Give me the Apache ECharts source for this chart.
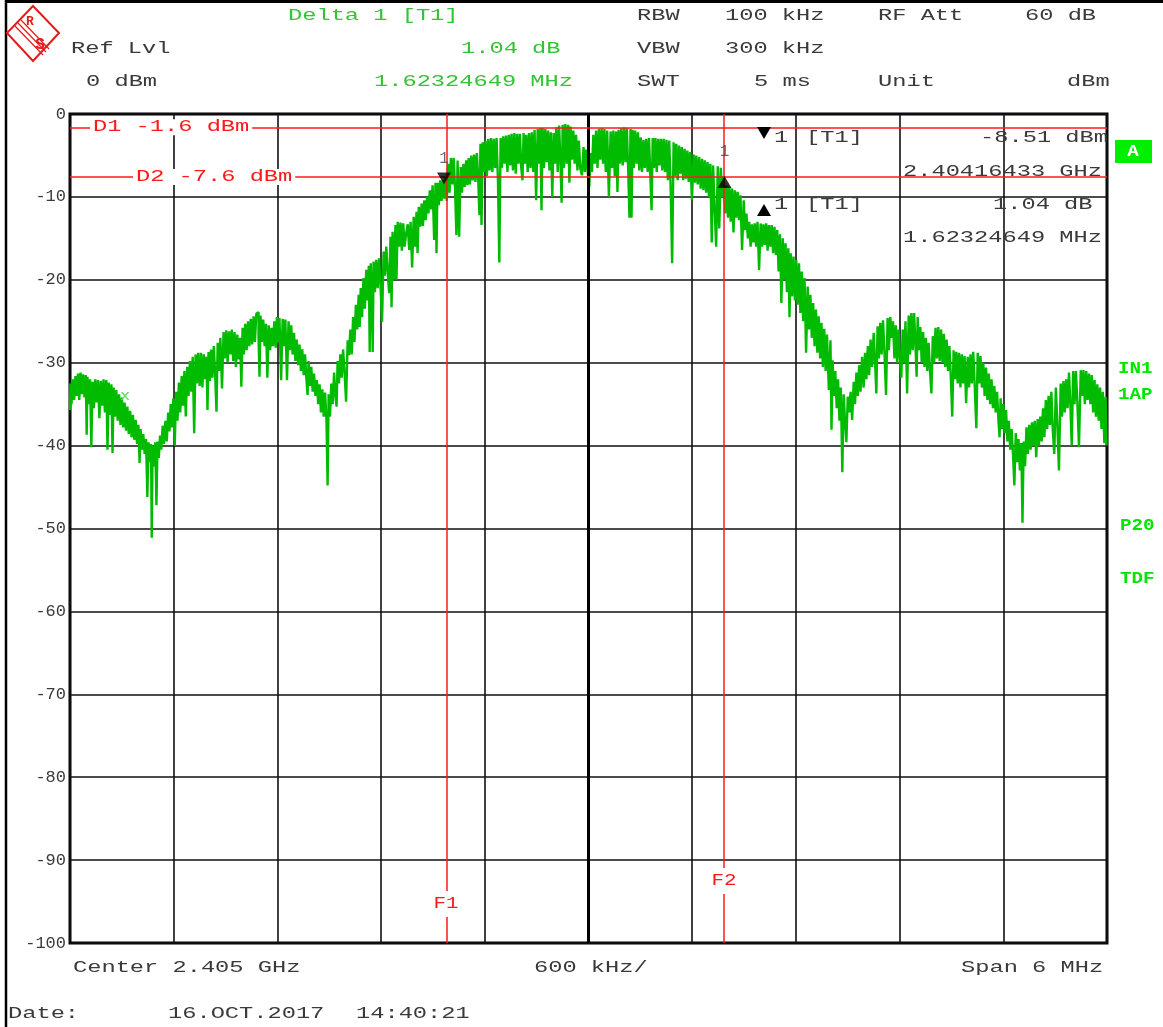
<!DOCTYPE html>
<html><head><meta charset="utf-8">
<script src="https://cdn.jsdelivr.net/npm/echarts@6/dist/echarts.min.js"></script>
<style>html,body{margin:0;padding:0;background:#fff}#c{width:1163px;height:1027px}</style>
</head><body><div id="c"></div>
<script>
// ---- data (frequency offset from centre in MHz, level in dBm) ----
const xRange = [-3, 3];           // span 6 MHz, 600 kHz/div
const yRange = [-100, 0];         // ref level 0 dBm, 10 dB/div
const trace = [
[-3.000,-35.7],[-2.995,-32.5],[-2.988,-35.0],[-2.980,-32.0],[-2.972,-34.5],[-2.965,-31.6],[-2.958,-34.0],[-2.950,-31.3],[-2.943,-34.5],[-2.935,-31.2],[-2.928,-33.8],[-2.920,-31.4],[-2.912,-34.2],[-2.905,-31.5],[-2.902,-38.7],[-2.896,-31.7],[-2.888,-35.0],[-2.880,-32.0],[-2.873,-40.2],[-2.866,-32.3],[-2.858,-35.5],[-2.850,-32.0],[-2.842,-34.8],[-2.834,-32.1],[-2.826,-36.7],[-2.818,-32.2],[-2.810,-35.2],[-2.802,-32.0],[-2.794,-36.0],[-2.786,-32.1],[-2.780,-40.5],[-2.772,-32.4],[-2.764,-36.3],[-2.757,-32.6],[-2.751,-40.9],[-2.744,-33.0],[-2.736,-36.5],[-2.728,-33.3],[-2.720,-37.0],[-2.712,-33.8],[-2.704,-37.5],[-2.696,-34.2],[-2.688,-37.8],[-2.680,-34.8],[-2.672,-38.2],[-2.664,-35.3],[-2.656,-38.6],[-2.648,-35.8],[-2.640,-39.0],[-2.632,-36.3],[-2.624,-39.3],[-2.616,-36.9],[-2.608,-39.8],[-2.600,-37.5],[-2.595,-42.1],[-2.588,-38.0],[-2.580,-40.5],[-2.572,-38.6],[-2.564,-41.0],[-2.556,-39.2],[-2.549,-46.2],[-2.542,-39.6],[-2.534,-42.0],[-2.528,-39.8],[-2.526,-51.1],[-2.518,-40.0],[-2.510,-42.5],[-2.503,-39.6],[-2.497,-47.2],[-2.490,-39.5],[-2.482,-41.5],[-2.476,-38.8],[-2.468,-40.5],[-2.460,-37.6],[-2.452,-39.8],[-2.444,-37.0],[-2.436,-39.5],[-2.428,-36.0],[-2.421,-38.3],[-2.414,-35.0],[-2.406,-37.8],[-2.398,-34.3],[-2.390,-40.0],
[-2.382,-33.5],[-2.374,-37.0],[-2.366,-32.4],[-2.358,-36.0],[-2.350,-31.6],[-2.342,-35.2],[-2.334,-31.0],[-2.326,-36.5],[-2.318,-30.5],[-2.310,-34.0],[-2.302,-29.8],[-2.294,-33.5],[-2.286,-29.3],[-2.277,-38.5],[-2.270,-29.0],[-2.262,-32.5],[-2.254,-28.8],[-2.246,-32.8],[-2.238,-28.8],[-2.230,-33.0],[-2.222,-29.0],[-2.214,-32.0],[-2.207,-29.3],[-2.202,-35.7],[-2.195,-28.7],[-2.187,-32.2],[-2.180,-28.4],[-2.172,-31.8],[-2.164,-28.0],[-2.156,-31.5],[-2.149,-35.9],[-2.142,-27.6],[-2.134,-31.0],[-2.126,-27.0],[-2.115,-33.1],[-2.108,-26.3],[-2.100,-29.5],[-2.092,-26.1],[-2.084,-30.0],[-2.076,-26.2],[-2.068,-29.0],[-2.060,-26.0],[-2.052,-29.8],[-2.044,-26.3],[-2.036,-30.5],[-2.028,-26.6],[-2.020,-29.6],[-2.012,-27.0],[-2.005,-32.9],[-1.998,-25.8],[-1.990,-29.0],[-1.982,-25.3],[-1.974,-28.5],[-1.966,-25.0],[-1.958,-28.0],[-1.950,-24.7],[-1.942,-27.8],[-1.934,-24.4],[-1.926,-27.5],[-1.918,-24.1],[-1.912,-23.9],[-1.906,-27.0],[-1.901,-31.7],[-1.894,-24.3],[-1.886,-27.5],[-1.878,-24.8],[-1.870,-28.0],[-1.862,-25.3],[-1.854,-31.8],[-1.846,-25.5],[-1.838,-28.5],[-1.830,-25.8],[-1.822,-28.0],[-1.814,-25.0],[-1.806,-28.2],[-1.800,-24.5],[-1.792,-27.6],[-1.784,-24.6],[-1.773,-32.1],[-1.766,-24.7],[-1.758,-28.0],[-1.750,-24.8],[-1.739,-32.1],[-1.732,-25.0],[-1.724,-28.5],[-1.716,-25.5],[-1.708,-29.0],[-1.700,-26.4],[-1.692,-29.8],[-1.684,-27.2],[-1.676,-30.3],[-1.668,-27.8],[-1.660,-31.0],[-1.652,-28.4],[-1.644,-31.5],[-1.636,-29.0],[-1.628,-32.0],[-1.623,-33.9],[-1.616,-29.8],[-1.608,-32.8],[-1.600,-30.5],[-1.592,-33.5],[-1.584,-31.3],[-1.576,-34.0],[-1.568,-32.1],[-1.560,-35.0],[-1.552,-32.6],[-1.544,-36.0],[-1.536,-33.2],[-1.528,-36.5],[-1.520,-33.6],[-1.512,-37.0],[-1.507,-44.8],[-1.500,-33.8],[-1.492,-36.5],[-1.484,-32.5],[-1.476,-35.0],[-1.468,-31.2],[-1.460,-34.0],[-1.455,-35.3],[-1.448,-29.8],[-1.440,-32.5],[-1.432,-29.0],[-1.424,-31.8],[-1.416,-28.4],[-1.408,-31.0],[-1.397,-34.7],[-1.390,-27.3],[-1.382,-29.1],
[-1.374,-26.0],[-1.366,-29.0],[-1.358,-24.5],[-1.350,-27.5],[-1.342,-23.0],[-1.334,-26.0],[-1.326,-21.8],[-1.322,-25.7],[-1.314,-21.0],[-1.306,-24.5],[-1.298,-19.8],[-1.290,-23.5],[-1.282,-18.8],[-1.274,-22.5],[-1.268,-18.3],[-1.264,-28.7],[-1.256,-18.0],[-1.250,-22.0],[-1.247,-28.7],[-1.240,-17.8],[-1.232,-21.5],[-1.224,-17.6],[-1.216,-21.0],[-1.208,-17.4],[-1.200,-20.5],[-1.189,-25.1],[-1.182,-16.6],[-1.174,-19.5],[-1.166,-16.0],[-1.158,-19.0],[-1.149,-21.6],[-1.142,-14.8],[-1.137,-23.3],[-1.130,-14.2],[-1.120,-20.0],[-1.114,-13.4],[-1.108,-20.0],[-1.100,-13.0],[-1.092,-16.0],[-1.084,-13.1],[-1.076,-16.5],[-1.068,-13.2],[-1.060,-16.0],[-1.050,-14.4],[-1.042,-13.3],[-1.033,-16.4],[-1.026,-13.0],[-1.015,-18.5],[-1.008,-12.4],[-0.998,-16.0],[-0.992,-11.8],[-0.986,-16.8],[-0.978,-11.2],[-0.969,-13.6],[-0.962,-10.8],[-0.954,-13.5],[-0.946,-10.4],[-0.938,-12.8],[-0.930,-10.0],[-0.922,-12.0],[-0.914,-9.2],[-0.906,-11.5],[-0.898,-8.6],[-0.888,-15.2],[-0.882,-8.3],[-0.877,-16.8],[-0.870,-8.3],[-0.862,-11.0],[-0.854,-8.0],[-0.846,-10.5],[-0.838,-8.0],[-0.830,-10.2],[-0.824,-7.6],
[-0.816,-10.5],[-0.808,-6.0],[-0.800,-9.5],[-0.792,-5.3],[-0.784,-8.5],[-0.776,-5.3],[-0.768,-9.0],[-0.761,-14.6],[-0.754,-5.6],[-0.743,-14.8],[-0.736,-6.4],[-0.728,-9.5],[-0.720,-6.0],[-0.712,-8.8],[-0.704,-5.6],[-0.697,-8.6],[-0.690,-5.3],[-0.682,-8.5],[-0.674,-5.0],[-0.666,-8.0],[-0.658,-4.9],[-0.650,-8.2],[-0.642,-4.7],[-0.634,-8.0],[-0.628,-12.2],[-0.622,-3.6],[-0.616,-13.4],[-0.608,-3.4],[-0.600,-7.0],[-0.592,-3.2],[-0.584,-7.5],[-0.576,-3.0],[-0.568,-6.8],[-0.560,-2.9],[-0.552,-7.0],[-0.544,-3.0],[-0.536,-6.5],[-0.528,-2.9],[-0.520,-8.0],[-0.512,-17.9],[-0.505,-2.9],[-0.497,-6.5],[-0.489,-2.7],[-0.481,-6.0],[-0.473,-2.6],[-0.465,-7.0],[-0.457,-2.5],[-0.449,-6.2],[-0.441,-2.4],[-0.433,-6.8],[-0.425,-2.3],[-0.417,-7.2],[-0.409,-2.4],[-0.401,-6.0],[-0.393,-2.4],[-0.385,-6.5],[-0.379,-8.0],[-0.372,-2.3],[-0.364,-6.0],[-0.356,-2.5],[-0.348,-7.0],[-0.340,-2.3],[-0.332,-6.5],[-0.324,-2.2],[-0.316,-7.0],[-0.308,-1.9],[-0.298,-10.4],[-0.290,-1.8],[-0.282,-6.0],[-0.275,-1.7],[-0.269,-11.6],[-0.262,-1.7],[-0.254,-6.5],[-0.246,-1.8],[-0.238,-5.8],[-0.230,-2.0],[-0.222,-6.8],[-0.214,-2.2],[-0.205,-10.0],[-0.198,-2.3],[-0.190,-6.0],[-0.182,-1.6],[-0.174,-7.0],[-0.166,-1.4],[-0.158,-6.0],[-0.153,-10.7],[-0.146,-1.3],[-0.138,-6.5],[-0.130,-1.2],[-0.122,-6.0],[-0.114,-1.3],[-0.107,-8.3],[-0.100,-1.5],[-0.092,-5.5],[-0.084,-2.0],[-0.076,-6.0],[-0.068,-2.5],[-0.060,-6.8],[-0.052,-3.2],[-0.044,-6.5],[-0.032,-7.4],[-0.025,-4.0],[-0.017,-7.0],[-0.009,-4.3],[0.000,-7.0],[0.009,-8.8],[0.016,-4.7],[0.024,-7.0],
[0.032,-2.5],[0.040,-6.0],[0.048,-2.0],[0.056,-6.5],[0.064,-1.8],[0.072,-5.5],[0.080,-1.7],[0.088,-6.0],[0.096,-1.8],[0.104,-7.0],[0.112,-2.0],[0.124,-10.0],[0.132,-2.1],[0.140,-6.5],[0.148,-2.0],[0.156,-7.5],[0.164,-2.1],[0.171,-9.4],[0.178,-1.9],[0.186,-6.0],[0.194,-1.7],[0.202,-6.2],[0.210,-1.6],[0.218,-5.8],[0.226,-1.7],[0.234,-7.0],[0.240,-12.5],[0.246,-1.8],[0.252,-12.5],[0.258,-1.9],[0.266,-6.5],[0.274,-2.0],[0.282,-6.0],[0.290,-2.2],[0.298,-6.8],[0.306,-2.8],[0.314,-7.0],[0.322,-3.1],[0.330,-6.5],[0.338,-3.0],[0.346,-7.0],[0.354,-2.9],[0.362,-7.5],[0.368,-11.6],[0.375,-2.9],[0.383,-6.5],[0.391,-2.9],[0.399,-7.0],[0.407,-3.0],[0.415,-6.2],[0.423,-3.0],[0.431,-6.8],[0.439,-3.0],[0.447,-7.0],[0.455,-3.1],[0.463,-8.0],[0.471,-3.2],[0.479,-8.5],[0.489,-18.0],[0.496,-3.4],[0.504,-7.5],[0.512,-3.6],[0.520,-8.0],[0.528,-3.8],[0.536,-7.2],[0.544,-4.0],[0.552,-8.0],[0.560,-4.2],[0.568,-7.8],[0.576,-4.4],[0.584,-8.2],[0.592,-4.6],[0.605,-10.4],[0.612,-4.9],[0.620,-8.3],[0.628,-5.0],[0.636,-8.5],[0.645,-5.2],[0.653,-9.0],[0.661,-5.4],[0.669,-9.2],[0.677,-5.6],[0.685,-9.5],[0.693,-5.8],[0.701,-10.0],[0.709,-6.0],[0.717,-15.5],[0.725,-6.2],[0.733,-11.0],[0.744,-16.0],[0.752,-6.3],[0.761,-13.8],[0.770,-6.5],[0.778,-10.0],[0.787,-7.5],
[0.795,-12.0],[0.803,-8.6],[0.811,-12.5],[0.819,-8.8],[0.827,-13.0],[0.835,-9.0],[0.843,-14.3],[0.851,-9.2],[0.859,-12.5],[0.867,-9.4],[0.875,-12.8],[0.883,-9.8],[0.894,-16.4],[0.902,-10.4],[0.910,-14.0],[0.918,-12.0],[0.926,-15.0],[0.934,-13.0],[0.942,-16.0],[0.950,-13.3],[0.958,-15.5],[0.966,-13.2],[0.974,-16.0],[0.982,-13.0],[0.992,-18.8],[1.000,-13.2],[1.008,-16.0],[1.016,-13.3],[1.024,-15.8],[1.032,-13.2],[1.040,-16.5],[1.048,-13.4],[1.056,-16.0],[1.064,-13.4],[1.072,-16.8],[1.080,-13.6],[1.088,-17.0],[1.096,-14.0],[1.104,-19.0],[1.112,-14.5],[1.120,-22.8],[1.128,-15.0],[1.136,-20.0],[1.144,-15.6],[1.152,-21.5],[1.160,-16.2],[1.166,-24.5],[1.174,-16.8],[1.182,-22.0],[1.190,-17.2],[1.198,-22.5],[1.206,-17.6],[1.214,-23.0],[1.222,-18.0],[1.230,-24.0],[1.238,-19.0],[1.246,-25.0],[1.254,-19.8],[1.264,-28.8],[1.272,-20.8],[1.280,-26.0],[1.288,-21.8],[1.296,-27.0],[1.304,-22.8],[1.312,-28.0],[1.320,-23.6],[1.328,-28.8],[1.336,-24.4],[1.344,-29.5],[1.352,-25.2],[1.360,-30.5],[1.368,-25.9],[1.376,-31.0],[1.384,-26.6],[1.397,-33.3],[1.403,-27.3],[1.409,-38.1],[1.416,-29.7],[1.424,-34.0],[1.432,-31.0],[1.440,-35.5],[1.448,-32.0],[1.456,-37.0],[1.464,-33.0],[1.473,-43.2],[1.480,-33.8],[1.488,-37.0],[1.496,-39.6],[1.504,-34.1],[1.513,-36.0],[1.520,-33.5],[1.531,-36.9],[1.538,-32.3],[1.546,-35.0],[1.554,-31.2],[1.562,-34.0],[1.570,-30.3],[1.578,-33.5],[1.588,-29.3],[1.596,-33.0],[1.604,-28.8],[1.612,-32.0],[1.620,-28.0],[1.628,-31.5],[1.636,-27.2],[1.646,-30.5],[1.654,-26.4],[1.662,-30.0],[1.669,-33.7],[1.676,-25.6],[1.684,-29.5],[1.692,-25.2],[1.700,-29.0],[1.708,-24.9],[1.716,-28.5],[1.727,-33.9],[1.734,-24.6],[1.742,-28.5],[1.750,-24.5],
[1.758,-27.0],[1.766,-25.0],[1.774,-29.5],[1.782,-25.5],[1.790,-30.0],[1.798,-26.0],[1.806,-29.5],[1.814,-31.8],[1.822,-26.0],[1.830,-30.0],[1.838,-25.0],[1.849,-33.7],[1.856,-24.3],[1.864,-29.0],[1.872,-24.0],[1.880,-28.5],[1.888,-24.0],[1.896,-28.0],[1.901,-31.7],[1.908,-24.5],[1.916,-28.5],[1.924,-25.7],[1.932,-30.0],[1.940,-26.3],[1.948,-30.5],[1.956,-27.0],[1.964,-31.0],[1.972,-27.6],[1.980,-31.0],[1.988,-33.7],[1.996,-26.8],[2.004,-30.0],[2.012,-25.8],[2.020,-29.5],[2.028,-25.7],[2.036,-29.8],[2.044,-26.0],[2.052,-30.0],[2.060,-26.5],[2.068,-30.5],[2.076,-27.2],[2.084,-31.0],[2.092,-28.0],[2.100,-31.5],[2.109,-36.5],[2.116,-28.5],[2.124,-32.0],[2.132,-28.7],[2.140,-32.5],[2.148,-28.8],[2.156,-33.0],[2.164,-29.0],[2.172,-32.5],[2.180,-29.2],[2.190,-34.9],[2.198,-29.3],[2.206,-33.0],[2.214,-29.0],[2.222,-32.5],[2.230,-28.7],[2.240,-33.0],[2.248,-37.9],[2.256,-28.8],[2.264,-32.5],[2.272,-29.2],[2.280,-33.0],[2.288,-30.0],[2.296,-34.0],[2.304,-30.6],[2.312,-34.5],[2.320,-31.3],[2.328,-35.0],[2.336,-32.0],[2.344,-35.5],[2.352,-32.8],[2.360,-36.0],[2.368,-33.5],[2.376,-37.0],[2.381,-39.0],[2.388,-34.3],[2.396,-38.0],[2.404,-35.0],[2.412,-38.5],[2.420,-35.7],[2.428,-39.5],[2.436,-37.0],[2.444,-40.5],[2.452,-38.0],[2.460,-41.0],[2.468,-44.8],[2.476,-38.5],[2.484,-42.0],[2.492,-39.2],[2.500,-43.0],[2.508,-39.7],[2.514,-49.3],[2.522,-39.5],[2.530,-42.5],[2.538,-37.8],[2.546,-41.0],[2.554,-37.5],[2.562,-40.5],[2.570,-37.2],[2.578,-40.0],[2.586,-37.0],[2.595,-41.4],[2.602,-36.8],[2.610,-40.0],[2.618,-36.5],[2.626,-39.5],[2.634,-35.5],[2.642,-39.0],[2.650,-34.5],[2.658,-38.0],[2.666,-34.0],[2.674,-37.5],[2.682,-33.5],[2.690,-38.0],[2.700,-41.0],[2.708,-33.0],[2.716,-37.0],[2.728,-43.0],[2.736,-32.5],[2.744,-36.5],[2.752,-32.2],[2.760,-36.0],[2.768,-32.0],[2.776,-35.5],[2.784,-31.2],[2.792,-35.0],[2.800,-40.0],[2.808,-31.0],[2.816,-35.0],[2.824,-31.0],[2.832,-34.5],[2.844,-40.2],[2.852,-30.9],[2.860,-34.0],[2.868,-30.9],[2.876,-35.0],[2.884,-31.0],[2.892,-34.5],[2.900,-31.3],[2.908,-35.0],[2.916,-31.5],[2.924,-36.0],[2.932,-32.1],[2.940,-36.5],[2.948,-32.6],[2.956,-37.0],[2.964,-33.0],[2.972,-38.0],[2.980,-33.5],[2.989,-39.7],[2.995,-34.1],[3.000,-40.0]
];
const marker1 = [-0.836, -8.51];     // 2.40416433 GHz, -8.51 dBm
const delta1 = [0.787, -7.47];       // +1.62324649 MHz, +1.04 dB
const displayLines = [-1.6, -7.6];   // D1, D2 (dBm)
const displayLabels = ['D1 -1.6 dBm', 'D2 -7.6 dBm'];
const freqLines = [-0.825, 0.784];   // F1, F2 (MHz offset)
const freqLabels = ['F1', 'F2'];

// ---- styling ----
const FONT = '"Liberation Mono", "DejaVu Sans Mono", monospace';
const SX = 1.48;
const DY = 2;
const GREY = '#3a3a3a', GTXT = '#33c433', RED = '#ff1a1a', TRACE = '#00bb00', BRIGHT = '#00e600';

const chart = echarts.init(document.getElementById('c'), null, {renderer: 'canvas'});
const option = {
  animation: false,
  backgroundColor: '#ffffff',
  grid: {left: 70, right: 56, top: 114, bottom: 84, show: true, borderColor: '#000', borderWidth: 3, backgroundColor: 'transparent', containLabel: false, outerBoundsMode: 'none'},
  xAxis: {type: 'value', min: xRange[0], max: xRange[1], interval: 0.6,
    axisLine: {show: false}, axisTick: {show: false}, axisLabel: {show: false},
    splitLine: {show: true, lineStyle: {color: '#111', width: 1.6}}},
  yAxis: {type: 'value', min: yRange[0], max: yRange[1], interval: 10,
    axisLine: {show: false}, axisTick: {show: false},
    axisLabel: {show: true, color: GREY, fontFamily: FONT, fontSize: 17, margin: 4, padding: [0, 0, 4, 0]},
    splitLine: {show: true, lineStyle: {color: '#111', width: 1.6}}},
  series: [
    {type: 'line', data: [], z: 1, silent: true,
     markLine: {silent: true, symbol: 'none', label: {show: false}, animation: false,
       data: [{xAxis: 0, lineStyle: {color: '#000', width: 3, type: 'solid'}}]}},
    {type: 'line', data: trace, z: 3, showSymbol: false, symbol: 'none', silent: true, step: 'middle',
     sampling: null, lineStyle: {color: TRACE, width: 2.4}, itemStyle: {color: TRACE},
     markLine: {silent: true, symbol: 'none', label: {show: false}, animation: false, z: 5,
       data: [
         {xAxis: freqLines[0], lineStyle: {color: RED, width: 1.5, type: 'solid'}},
         {xAxis: freqLines[1], lineStyle: {color: RED, width: 1.5, type: 'solid'}},
         {yAxis: displayLines[0], lineStyle: {color: RED, width: 1.5, type: 'solid'}},
         {yAxis: displayLines[1], lineStyle: {color: RED, width: 1.5, type: 'solid'}}
       ]}},
    {type: 'scatter', z: 6, silent: true, symbol: 'triangle', symbolSize: [14, 12],
     itemStyle: {color: '#000'},
     label: {show: true, position: 'top', formatter: '1', color: '#444', fontFamily: FONT, fontSize: 16},
     data: [
       {value: marker1, symbolRotate: 180, symbolOffset: [0, -6], label: {distance: 6}},
       {value: delta1, symbolOffset: [0, 6], label: {distance: 16}}
     ]}
  ]
};
chart.setOption(option);

function T(x, y, text, color, extra) {
  const e = Object.assign({align: 'left', bold: false, size: 16, sx: SX, bg: null}, extra || {});
  const st = {text: text, fill: color, font: (e.bold ? 'bold ' : '') + e.size + 'px ' + FONT,
    textAlign: e.align, textVerticalAlign: 'middle', align: e.align, verticalAlign: 'middle'};
  if (e.bg) { st.backgroundColor = e.bg; st.padding = e.pad || [2, 2]; }
  return {type: 'text', x: x, y: y + DY, scaleX: e.sx, z: 100, zlevel: 0, silent: true, style: st};
}

const px = (f, v) => chart.convertToPixel({gridIndex: 0}, [f, v]);
const gLeft = px(xRange[0], 0)[0];
const gBottom = px(0, yRange[0])[1];

const els = [
  // outer frame
  {type: 'line', z: 100, shape: {x1: 6, y1: 0, x2: 6, y2: 1027}, style: {stroke: '#000', lineWidth: 2.5}},
  {type: 'line', z: 100, shape: {x1: 5, y1: 1.5, x2: 1163, y2: 1.5}, style: {stroke: '#000', lineWidth: 3}},
  // R&S logo
  {type: 'polygon', z: 100, shape: {points: [[33, 6], [59, 33], [33, 61], [7, 33]]}, style: {fill: '#fff', stroke: '#e51a1a', lineWidth: 2}},
  {type: 'line', z: 101, shape: {x1: 15, y1: 26, x2: 43, y2: 55}, style: {stroke: '#e51a1a', lineWidth: 1.2}},
  {type: 'line', z: 101, shape: {x1: 18, y1: 23, x2: 46, y2: 52}, style: {stroke: '#e51a1a', lineWidth: 1.2}},
  {type: 'line', z: 101, shape: {x1: 21, y1: 20, x2: 49, y2: 49}, style: {stroke: '#e51a1a', lineWidth: 1.2}},
  T(30, 20, 'R', '#e51a1a', {bold: true, size: 13, sx: 1, align: 'center'}),
  T(40, 43, 'S', '#e51a1a', {bold: true, size: 16, sx: 1, align: 'center'}),
  // header
  T(288, 14, 'Delta 1 [T1]', GTXT),
  T(637, 14, 'RBW', GREY), T(725, 14, '100 kHz', GREY), T(878, 14, 'RF Att', GREY), T(1025, 14, '60 dB', GREY),
  T(71, 47, 'Ref Lvl', GREY), T(461, 47, '1.04 dB', GTXT), T(637, 47, 'VBW', GREY), T(725, 47, '300 kHz', GREY),
  T(86, 80, '0 dBm', GREY), T(374, 80, '1.62324649 MHz', GTXT), T(637, 80, 'SWT', GREY), T(754, 80, '5 ms', GREY),
  T(878, 80, 'Unit', GREY), T(1067, 80, 'dBm', GREY),
  // marker info table
  {type: 'polygon', z: 100, shape: {points: [[757, 127], [771, 127], [764, 139]]}, style: {fill: '#000'}},
  T(774, 136, '1', GREY), T(806, 136, '[T1]', GREY), T(1108, 136, '-8.51 dBm', GREY, {align: 'right'}),
  T(903, 170, '2.40416433 GHz', GREY),
  {type: 'polygon', z: 100, shape: {points: [[757, 216], [771, 216], [764, 204]]}, style: {fill: '#000'}},
  T(774, 203, '1', GREY), T(806, 203, '[T1]', GREY), T(993, 203, '1.04 dB', GREY),
  T(903, 236, '1.62324649 MHz', GREY),
  // right side annotations
  {type: 'rect', z: 100, shape: {x: 1115, y: 140, width: 37, height: 23}, style: {fill: '#00ee00'}},
  T(1133, 150, 'A', '#fff', {bold: true, sx: 1.2, align: 'center'}),
  T(1118, 367, 'IN1', BRIGHT, {bold: true, sx: 1.2}),
  T(1118, 393, '1AP', BRIGHT, {bold: true, sx: 1.2}),
  T(1120, 524, 'P20', BRIGHT, {bold: true, sx: 1.2}),
  T(1120, 577, 'TDF', BRIGHT, {bold: true, sx: 1.2}),
  T(120, 394, 'x', '#55e055', {size: 14, sx: 1.2}),
  // footer
  T(73, 966, 'Center 2.405 GHz', GREY), T(534, 966, '600 kHz/', GREY), T(961, 966, 'Span 6 MHz', GREY),
  T(8, 1012, 'Date:', GREY), T(168, 1012, '16.OCT.2017', GREY), T(356, 1012, '14:40:21', GREY)
];
// display-line labels (D1, D2) and frequency-line labels (F1, F2), placed from the axes
els.push(T(gLeft + 20, px(0, displayLines[0])[1] - DY, displayLabels[0], RED, {bg: '#fff', pad: [0, 2]}));
els.push(T(gLeft + 63, px(0, displayLines[1])[1] - DY, displayLabels[1], RED, {bg: '#fff', pad: [0, 2]}));
els.push(T(px(freqLines[0], 0)[0], gBottom - 41, freqLabels[0], RED, {align: 'center', bg: '#fff', pad: [5, 1], sx: 1.3}));
els.push(T(px(freqLines[1], 0)[0], gBottom - 64, freqLabels[1], RED, {align: 'center', bg: '#fff', pad: [5, 1], sx: 1.3}));

chart.setOption({graphic: {elements: els}});
</script>
</body></html>
